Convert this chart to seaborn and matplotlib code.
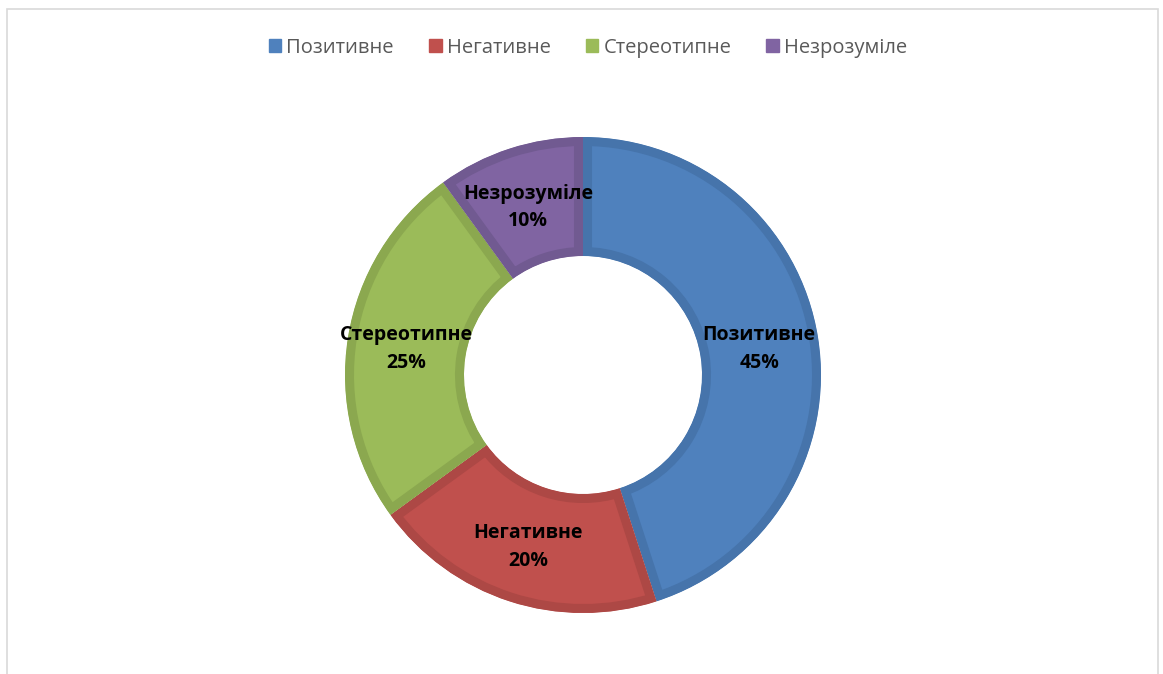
import matplotlib
matplotlib.use("Agg")
import matplotlib.pyplot as plt
import seaborn as sns
import numpy as np
from matplotlib.patches import Rectangle, Patch

categories = ["Позитивне", "Негативне", "Стереотипне", "Незрозуміле"]
values = [45, 20, 25, 10]
colors = ["#4F81BD", "#C0504D", "#9BBB59", "#8064A2"]
edge_colors = ["#4674AB", "#AD4845", "#8BA84F", "#715A91"]

sns.set_theme(style="white")
plt.rcParams['font.family'] = ['Open Sans', 'DejaVu Sans']

fig = plt.figure(figsize=(11.63, 6.74), dpi=100)
fig.patch.set_facecolor("white")

# outer frame
fig.patches.append(Rectangle((7 / 1163, -0.05), (1158 - 7) / 1163, 1.05 - 9 / 674,
                             transform=fig.transFigure, fill=False,
                             edgecolor="#D9D9D9", linewidth=1.2))

cx, cy, r = 583, 375, 238
ax = fig.add_axes([(cx - r) / 1163, (674 - cy - r) / 674, 2 * r / 1163, 2 * r / 674])
wedges, _ = ax.pie(values, colors=colors, startangle=90, counterclock=False,
                   radius=1.0, wedgeprops=dict(width=0.5))
for w, ec in zip(wedges, edge_colors):
    w.set_edgecolor(ec)
    w.set_linewidth(13)
    w.set_clip_on(True)
    w.set_clip_path(w)

total = sum(values)
start = 90.0
for cat, v in zip(categories, values):
    ang = start - 360 * v / total / 2
    start -= 360 * v / total
    rr = 0.75
    x, y = rr * np.cos(np.radians(ang)), rr * np.sin(np.radians(ang))
    ax.annotate(f"{cat}\n{v}%", (x, y), xytext=(0, -1.5), textcoords="offset points",
                ha="center", va="center", fontsize=14,
                fontweight="bold", color="black", linespacing=1.5)

ax.set_xlim(-1, 1)
ax.set_ylim(-1, 1)
ax.set_aspect("equal")
ax.axis("off")

handles = [Patch(facecolor=c, edgecolor=c) for c in colors]
fig.legend(handles, categories, loc="center", bbox_to_anchor=(588 / 1163, 1 - 48 / 674),
           ncol=4, frameon=False, fontsize=14.5, handlelength=0.62, handleheight=0.62,
           handletextpad=0.25, columnspacing=1.75, labelcolor="#595959")

fig.savefig("out.png", dpi=100, facecolor="white")
